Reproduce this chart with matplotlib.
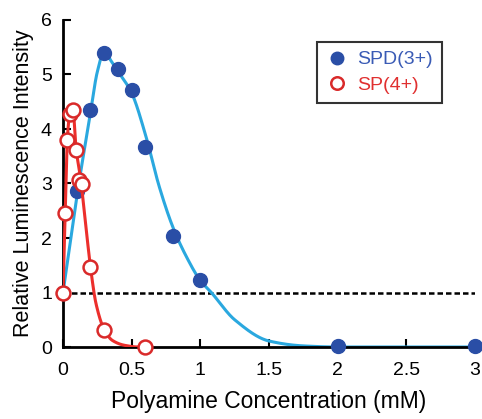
import numpy as np
import matplotlib
matplotlib.use("Agg")
import matplotlib.pyplot as plt

# ---- data ----
spd_x = [0.0, 0.1, 0.2, 0.3, 0.4, 0.5, 0.6, 0.8, 1.0, 2.0, 3.0]
spd_y = [1.0, 2.87, 4.34, 5.39, 5.11, 4.72, 3.67, 2.04, 1.23, 0.02, 0.02]

sp_x = [0.0, 0.015, 0.03, 0.05, 0.075, 0.095, 0.12, 0.136, 0.2, 0.3, 0.6]
sp_y = [1.0, 2.46, 3.79, 4.28, 4.35, 3.62, 3.06, 2.99, 1.47, 0.32, 0.0]

# fitted-curve guide points
spd_fit_x = [0.0, 0.1, 0.2, 0.25, 0.3, 0.35, 0.4, 0.5, 0.6, 0.7, 0.8, 0.9, 1.0, 1.08, 1.25, 1.5, 1.75, 2.0, 3.0]
spd_fit_y = [1.0, 2.75, 4.3, 5.05, 5.42, 5.25, 5.06, 4.66, 3.9, 2.95, 2.2, 1.65, 1.22, 1.0, 0.5, 0.11, 0.02, 0.0, 0.0]

sp_fit_x = [0.0, 0.015, 0.03, 0.05, 0.07, 0.095, 0.13, 0.165, 0.2, 0.24, 0.3, 0.36, 0.45, 0.55, 0.6]
sp_fit_y = [1.0, 2.4, 3.75, 4.3, 4.42, 3.65, 3.05, 2.25, 1.47, 0.8, 0.32, 0.12, 0.03, 0.0, 0.0]

x_ticks = [0, 0.5, 1, 1.5, 2, 2.5, 3]
x_tick_labels = ["0", "0.5", "1", "1.5", "2", "2.5", "3"]
y_ticks = [0, 1, 2, 3, 4, 5, 6]


def pchip(xk, yk, xs):
    xk = np.asarray(xk, float); yk = np.asarray(yk, float)
    h = np.diff(xk); d = np.diff(yk) / h
    n = len(xk); m = np.zeros(n)
    for k in range(1, n - 1):
        if d[k - 1] * d[k] <= 0:
            m[k] = 0.0
        else:
            w1 = 2 * h[k] + h[k - 1]; w2 = h[k] + 2 * h[k - 1]
            m[k] = (w1 + w2) / (w1 / d[k - 1] + w2 / d[k])
    m[0] = d[0]; m[-1] = d[-1]
    idx = np.clip(np.searchsorted(xk, xs) - 1, 0, n - 2)
    t = (xs - xk[idx]) / h[idx]
    h00 = 2 * t**3 - 3 * t**2 + 1; h10 = t**3 - 2 * t**2 + t
    h01 = -2 * t**3 + 3 * t**2; h11 = t**3 - t**2
    return h00 * yk[idx] + h10 * h[idx] * m[idx] + h01 * yk[idx + 1] + h11 * h[idx] * m[idx + 1]


plt.rcParams['font.family'] = ['Liberation Sans', 'DejaVu Sans']

fig = plt.figure(figsize=(4.82, 4.19), dpi=100)
ax = fig.add_axes([63 / 482, 72 / 419, 412 / 482, 327 / 419])

blue_line = '#2aa8df'
blue_dot = '#2a4ea6'
red_line = '#ec2f2c'
red_edge = '#d92a2a'

ax.axhline(1.0, color='black', lw=1.8, ls=(0, (2.2, 1.2)), zorder=1)

xs = np.linspace(0, 3, 1200)
ax.plot(xs, pchip(spd_fit_x, spd_fit_y, xs), color=blue_line, lw=2.2, zorder=2)
ax.plot(spd_x, spd_y, 'o', ms=10, color=blue_dot, mec=blue_dot, zorder=6, label='SPD(3+)',
        clip_on=False)

xr = np.linspace(0, 0.6, 800)
ax.plot(xr, pchip(sp_fit_x, sp_fit_y, xr), color=red_line, lw=2.2, zorder=7)
ax.plot(sp_x, sp_y, 'o', ms=10, mfc='white', mec=red_edge, mew=1.8, zorder=8, label='SP(4+)',
        clip_on=False)

ax.set_xlim(0, 3)
ax.set_ylim(0, 6)
ax.set_xticks(x_ticks)
ax.set_xticklabels(x_tick_labels)
ax.set_yticks(y_ticks)
for s in ['top', 'right']:
    ax.spines[s].set_visible(False)
for s in ['left', 'bottom']:
    ax.spines[s].set_linewidth(2)
ax.tick_params(axis='x', direction='in', length=6, width=1.5, labelsize=14, pad=11, colors='black')
ax.tick_params(axis='y', direction='in', length=6, width=1.5, labelsize=14, pad=8, colors='black')
ax.set_xlabel('Polyamine Concentration (mM)', fontsize=16.5, labelpad=8)
ax.set_ylabel('Relative Luminescence Intensity', fontsize=15.5, labelpad=5)

leg = ax.legend(loc='upper right', bbox_to_anchor=((442 - 63) / 412, (419 - 42 - 72) / 327),
                borderaxespad=0, fontsize=14, frameon=True, fancybox=False, edgecolor='black',
                handletextpad=0.45, borderpad=0.45, handlelength=1.2, labelspacing=0.4,
                markerscale=0.9)
leg.get_frame().set_linewidth(1.5)
leg.set_zorder(10)
leg.get_texts()[0].set_color('#3a5bb5')
leg.get_texts()[1].set_color('#e03030')

fig.savefig('out.png', dpi=100)
